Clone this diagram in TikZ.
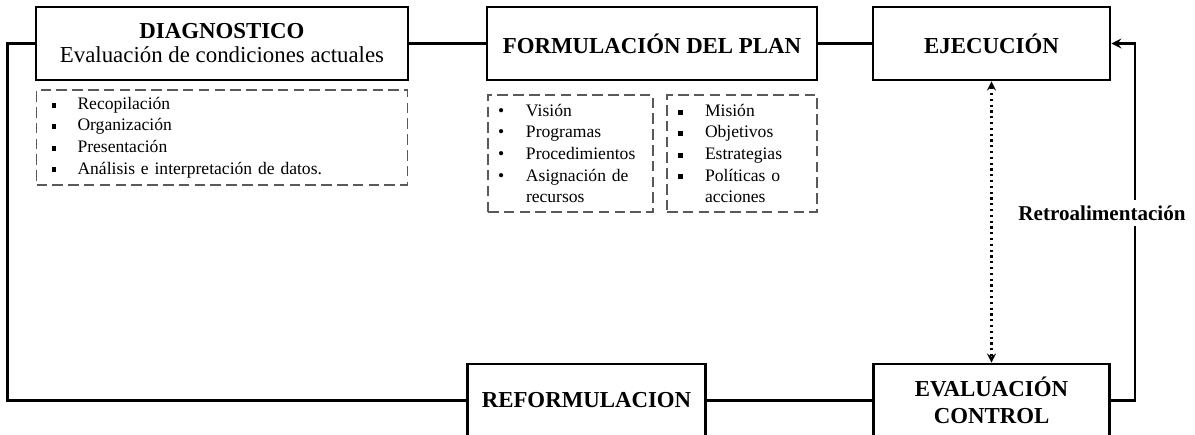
\documentclass[tikz,border=0pt]{standalone}
\usepackage{fontspec}
\setmainfont{Liberation Serif}
\usetikzlibrary{shapes.geometric, arrows}
\tikzstyle{stage} = [rectangle, minimum height=1.46cm, text centered, align=center, draw=black, line width=1.5pt, font=\fontsize{13}{13.7}\selectfont\bfseries]
\tikzstyle{notes} = [rectangle, draw=black!65, dash pattern=on 6pt off 3pt, line width=0.6pt, align=left, font=\fontsize{10}{12.3}\selectfont, inner ysep=0pt]
\tikzstyle{line} = [line width=1.5pt]
\tikzstyle{arrow} = [line width=1.5pt,->,>=stealth]
\tikzstyle{check} = [line width=1.3pt,dotted,<->,>=stealth]
\tikzstyle{fdbk} = [fill=white, font=\fontsize{12}{14}\selectfont\bfseries]
\newcommand{\sqb}{\rule[1pt]{2.8pt}{2.8pt}}
\newcommand{\itm}[3]{\makebox[#1][l]{#2}#3}

\begin{document}
\begin{tikzpicture}
			\useasboundingbox (0,0) rectangle (23.9,-8.7);
			\node (diag) [stage, minimum width=7.44cm] at (4.44,-0.87) {DIAGNOSTICO\\ \mdseries Evaluación de condiciones actuales};
			\node (form) [stage, minimum width=6.6cm, right of=diag, xshift=7.6cm] {FORMULACIÓN DEL PLAN};
			\node (ejec) [stage, minimum width=4.74cm, right of=form, xshift=5.79cm] {EJECUCIÓN};
			\node (eval) [stage, minimum width=4.72cm, below of=ejec, yshift=-6.14cm, font=\fontsize{13}{15.2}\selectfont\bfseries] {EVALUACIÓN\\ CONTROL};
			\node (reform) [stage, minimum width=4.76cm, left of=eval, xshift=-7.1cm] {REFORMULACION};

			%% listas
			\node (lst1) [notes, below of=diag, yshift=-0.88cm, inner xsep=0.3cm, text width=6.82cm, minimum height=1.9cm] {\itm{0.52cm}{\sqb}{Recopilación}\\ \itm{0.52cm}{\sqb}{Organización}\\ \itm{0.52cm}{\sqb}{Presentación}\\ \itm{0.52cm}{\sqb}{Análisis e interpretación de datos.}};
			\node (lst2) [notes, below of=form, xshift=-1.63cm, yshift=-1.2cm, inner xsep=0.2cm, text width=2.9cm, minimum height=2.34cm] {\itm{0.56cm}{\textbullet}{Visión}\\ \itm{0.56cm}{\textbullet}{Programas}\\ \itm{0.56cm}{\textbullet}{Procedimientos}\\ \itm{0.56cm}{\textbullet}{Asignación de}\\ \itm{0.56cm}{}{recursos}};
			\node (lst3) [notes, below of=form, xshift=1.8cm, yshift=-1.2cm, inner xsep=0.22cm, text width=2.56cm, minimum height=2.34cm] {\itm{0.54cm}{\sqb}{Misión}\\ \itm{0.54cm}{\sqb}{Objetivos}\\ \itm{0.54cm}{\sqb}{Estrategias}\\ \itm{0.54cm}{\sqb}{Políticas o}\\ \itm{0.54cm}{}{acciones}};

			\draw [line] (diag) -- (form);
			\draw [line] (form) -- (ejec);
			\draw [line] (reform) -- (eval);
			\draw [line] (diag.west) -- ++(-0.54cm,0) |- (reform.west);
			\draw [arrow] (eval.east) -- ++(0.48cm,0) |- (ejec.east);
			\draw [check] (ejec) -- (eval);
			\node (retro) [fdbk, right of=ejec, xshift=1.21cm, yshift=-3.39cm] {Retroalimentación};
		\end{tikzpicture}
\end{document}
